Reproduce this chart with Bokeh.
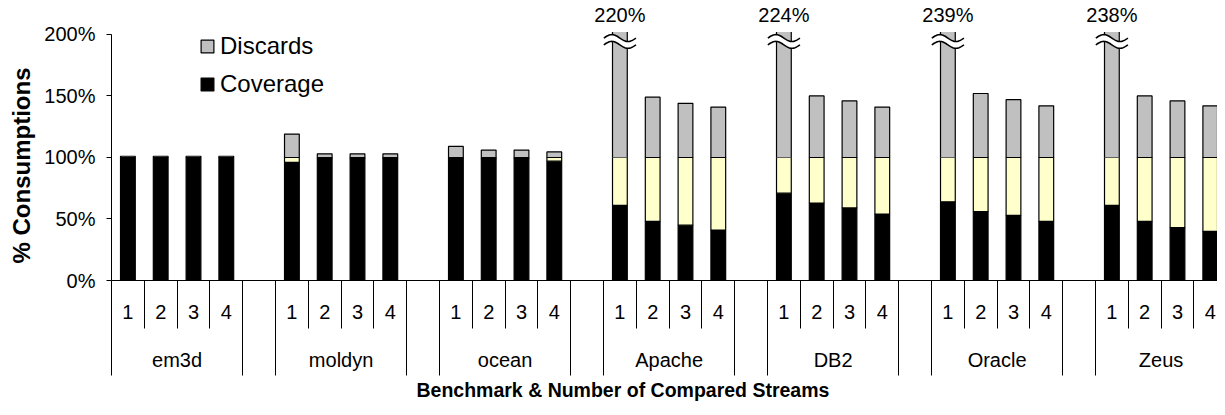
import numpy as np
from bokeh.plotting import figure
from bokeh.models import (Range1d, LinearAxis, FixedTicker, ColumnDataSource,
                          Legend, LegendItem, PrintfTickFormatter, Title)
from bokeh.core.properties import value
from bokeh.embed import file_html
from bokeh.resources import INLINE

# ---------------- data ----------------
groups = ["em3d", "moldyn", "ocean", "Apache", "DB2", "Oracle", "Zeus"]
streams = ["1", "2", "3", "4"]
# % of consumptions covered (black)
coverage = [100, 100, 100, 100,
            96, 99, 99, 99,
            99, 99, 99, 97,
            61, 48, 45, 41,
            71, 63, 59, 54,
            64, 56, 53, 48,
            61, 48, 43, 40]
# % discards above 100% (gray)
discards = [1, 1, 1, 1,
            19, 3, 3, 3,
            9, 6, 6, 4.5,
            120, 49, 44, 41,
            124, 50, 46, 41,
            139, 52, 47, 42,
            138, 50, 46, 42]
y_ticks = [0, 50, 100, 150, 200]

# ---------------- style ----------------
FONT = "Liberation Sans"
C_COV = "#000000"
C_UNC = "#FFFFCC"
C_DIS = "#C0C0C0"
BAR_W = 0.45
Y_TOP = 227.6        # top of the plotting frame
Y_CAP = 202.0        # broken bars are cut here
LABEL_Y = 216.0      # value labels of broken bars
BREAK_Y = 194.3
BREAK_GAP = 5.5
BREAK_AMP = 2.8
BREAK_W = 0.98
X_END = 33.72

# ---------------- positions ----------------
xs, totals = [], []
for gi, g in enumerate(groups):
    for bi, s in enumerate(streams):
        i = gi * 4 + bi
        xs.append(gi * 5 + bi + 0.5)
        totals.append(100 + discards[i])
centers = xs
boundaries = [gi * 5 + k for gi in range(len(groups)) for k in range(5)]
group_centers = [gi * 5 + 2 for gi in range(len(groups))]
group_edges = [gi * 5 + k for gi in range(len(groups)) for k in (0, 4)]

p = figure(width=1217, height=407,
           x_range=Range1d(0, X_END), y_range=Range1d(0, Y_TOP),
           output_backend="svg", toolbar_location=None,
           min_border_left=111, min_border_right=0,
           min_border_top=0, min_border_bottom=127)
p.grid.visible = False
p.outline_line_color = None
p.background_fill_color = "white"

# coverage (black)
src_cov = ColumnDataSource(dict(x=xs, top=coverage))
r_cov = p.vbar(x="x", top="top", bottom=0, width=BAR_W, source=src_cov,
               fill_color=C_COV, line_color="black", line_width=1.2)

# uncovered (yellow) from coverage up to 100%
ux = [x for x, c in zip(xs, coverage) if c < 100]
ub = [c for c in coverage if c < 100]
src_unc = ColumnDataSource(dict(x=ux, bottom=ub, top=[100] * len(ux)))
p.vbar(x="x", top="top", bottom="bottom", width=BAR_W, source=src_unc,
       fill_color=C_UNC, line_color="black", line_width=1.2)

# discards (gray) above 100%
nx = [x for x, t in zip(xs, totals) if t <= Y_CAP]
nt = [t for t in totals if t <= Y_CAP]
src_dis = ColumnDataSource(dict(x=nx, top=nt, bottom=[100] * len(nx)))
r_dis = p.vbar(x="x", top="top", bottom="bottom", width=BAR_W, source=src_dis,
               fill_color=C_DIS, line_color="black", line_width=1.2)

# broken discards bars
bx = [x for x, t in zip(xs, totals) if t > Y_CAP]
bt = [t for t in totals if t > Y_CAP]
src_brk = ColumnDataSource(dict(x=bx, top=[Y_CAP] * len(bx), bottom=[100] * len(bx)))
p.vbar(x="x", top="top", bottom="bottom", width=BAR_W, source=src_brk,
       fill_color=C_DIS, line_color=None)
for side in (-1, 1):
    p.segment(x0=[x + side * BAR_W / 2 for x in bx], y0=[100] * len(bx),
              x1=[x + side * BAR_W / 2 for x in bx], y1=[Y_CAP] * len(bx),
              line_color="black", line_width=1.2)

# break marks
u = np.linspace(-0.5, 0.5, 41)
wave = -BREAK_AMP * np.sin(2 * np.pi * u)
patch_xs, patch_ys, line_xs, line_ys = [], [], [], []
for x in bx:
    cx = list(x + u * BREAK_W)
    up = list(BREAK_Y + BREAK_GAP / 2 + wave)
    lo = list(BREAK_Y - BREAK_GAP / 2 + wave)
    patch_xs.append(cx + cx[::-1])
    patch_ys.append(up + lo[::-1])
    line_xs += [cx, cx]
    line_ys += [up, lo]
p.patches(xs=patch_xs, ys=patch_ys, fill_color="white", line_color=None)
p.multi_line(xs=line_xs, ys=line_ys, line_color="black", line_width=1.6)

p.text(x=bx, y=[LABEL_Y] * len(bx), text=[f"{t:g}%" for t in bt],
       text_font=value(FONT), text_font_size="20px",
       text_align="center", text_baseline="middle", text_color="black")

# ---------------- axes ----------------
ya = p.yaxis[0]
ya.ticker = FixedTicker(ticks=y_ticks, minor_ticks=[])
ya.formatter = PrintfTickFormatter(format="%d%%")
ya.bounds = (0, 200)
ya.major_tick_out = 5
ya.major_tick_in = 0
ya.minor_tick_out = 0
ya.axis_line_color = "black"
ya.major_tick_line_color = "black"
ya.major_label_text_font = FONT
ya.major_label_text_font_size = "20px"
ya.major_label_text_color = "black"
ya.major_label_standoff = 11

xa = p.xaxis[0]
xa.ticker = FixedTicker(ticks=centers, minor_ticks=boundaries)
xa.major_label_overrides = {c: streams[i % 4] for i, c in enumerate(centers)}
xa.major_tick_out = 0
xa.major_tick_in = 0
xa.minor_tick_out = 48
xa.minor_tick_in = 0
xa.minor_tick_line_color = "black"
xa.axis_line_color = "black"
xa.major_label_text_font = FONT
xa.major_label_text_font_size = "20px"
xa.major_label_text_color = "black"
xa.major_label_standoff = -24

xb = LinearAxis(ticker=FixedTicker(ticks=group_centers, minor_ticks=group_edges))
xb.major_label_overrides = {c: groups[i] for i, c in enumerate(group_centers)}
xb.axis_line_color = None
xb.major_tick_out = 0
xb.major_tick_in = 0
xb.minor_tick_out = 54
xb.minor_tick_in = 10
xb.minor_tick_line_color = "black"
xb.major_label_text_font = FONT
xb.major_label_text_font_size = "20px"
xb.major_label_text_color = "black"
xb.major_label_standoff = -27
p.add_layout(xb, "below")

# axis titles, placed like the reference
p.add_layout(Title(text="Benchmark & Number of Compared Streams",
                   align="left", offset=305, standoff=8,
                   vertical_align="middle",
                   text_font=FONT, text_font_style="bold",
                   text_font_size="19.5px", text_color="black"), "below")
p.add_layout(Title(text="% Consumptions",
                   align="left", offset=17, standoff=10,
                   vertical_align="top",
                   text_font=FONT, text_font_style="bold",
                   text_font_size="24px", text_color="black"), "left")

# ---------------- legend ----------------
legend = Legend(items=[LegendItem(label="Discards", renderers=[r_dis]),
                       LegendItem(label="Coverage", renderers=[r_cov])],
                location=(88, 182), padding=0, margin=0, spacing=10,
                glyph_width=16, glyph_height=16, label_standoff=5,
                label_text_font=FONT, label_text_font_size="24px",
                label_text_color="black",
                background_fill_alpha=0, border_line_color=None)
p.add_layout(legend)

open("out.html", "w").write(file_html(p, INLINE))
